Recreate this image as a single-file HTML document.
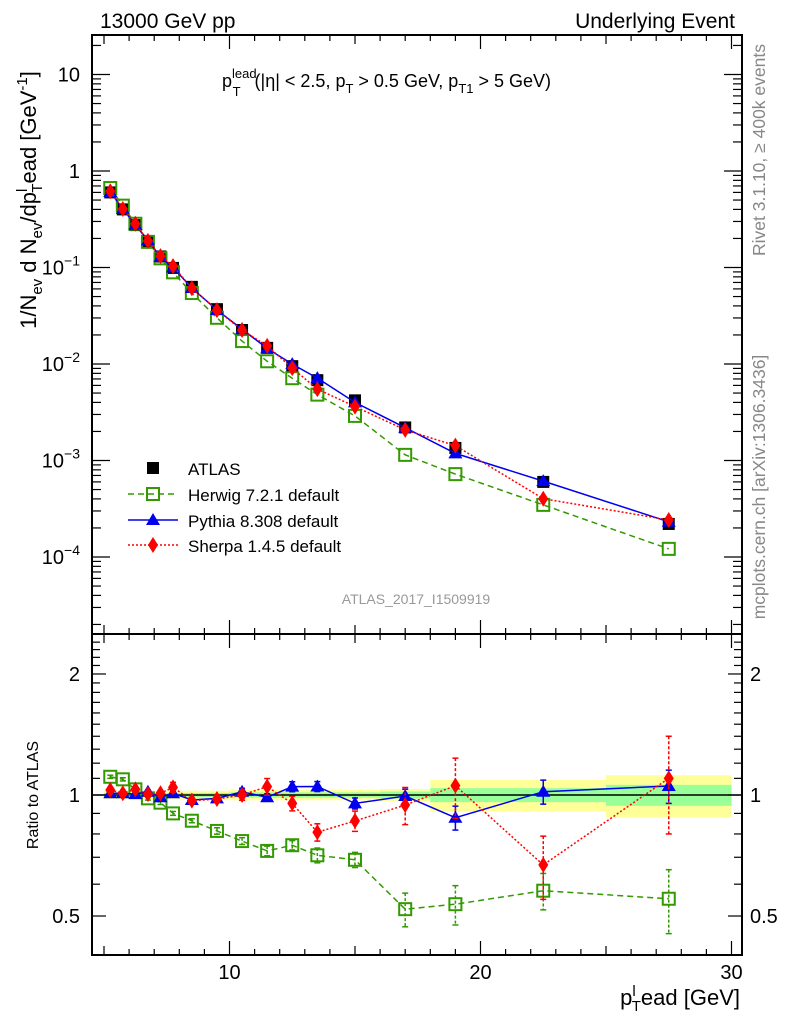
<!DOCTYPE html>
<html><head><meta charset="utf-8"><style>
body{margin:0;background:#fff}
svg text{font-family:"Liberation Sans",sans-serif}
</style></head><body>
<svg id="c" width="786" height="1024" viewBox="0 0 786 1024" xmlns="http://www.w3.org/2000/svg">
<text x="100" y="28" font-size="21">13000 GeV pp</text>
<text x="735" y="28" font-size="21" text-anchor="end">Underlying Event</text>
<text x="222" y="87" font-size="18">p<tspan dy="-9" font-size="13">lead</tspan><tspan dx="-24" dy="18" font-size="13">T</tspan><tspan dx="14" dy="-9">(|η| &lt; 2.5, p</tspan><tspan dy="6" font-size="13">T</tspan><tspan dy="-6"> &gt; 0.5 GeV, p</tspan><tspan dy="6" font-size="13">T1</tspan><tspan dy="-6"> &gt; 5 GeV)</tspan></text>
<text transform="translate(36,200) rotate(-90)" font-size="22" text-anchor="middle">1/N<tspan dy="6" font-size="15">ev</tspan><tspan dy="-6"> d N</tspan><tspan dy="6" font-size="15">ev</tspan><tspan dy="-6">/dp</tspan><tspan dy="-9" font-size="15">l</tspan><tspan dx="-4" dy="15" font-size="15">T</tspan><tspan dy="-6">ead [GeV</tspan><tspan dy="-9" font-size="15">-1</tspan><tspan dy="9">]</tspan></text>
<text transform="translate(38,795) rotate(-90)" font-size="16" text-anchor="middle">Ratio to ATLAS</text>
<text x="740" y="1005" font-size="22" text-anchor="end">p<tspan dy="-9" font-size="15">l</tspan><tspan dx="-4" dy="15" font-size="15">T</tspan><tspan dy="-6">ead [GeV]</tspan></text>
<text transform="translate(765,150) rotate(-90)" font-size="17.5" fill="#888" text-anchor="middle">Rivet 3.1.10, ≥ 400k events</text>
<text transform="translate(765,487) rotate(-90)" font-size="17.5" fill="#888" text-anchor="middle">mcplots.cern.ch [arXiv:1306.3436]</text>
<text x="416" y="604" font-size="14" fill="#999" text-anchor="middle">ATLAS_2017_I1509919</text>
<g id="g"></g>
</svg>
<script>
const xs=[5.25,5.75,6.25,6.75,7.25,7.75,8.5,9.5,10.5,11.5,12.5,13.5,15,17,19,22.5,27.5];
const binEdges=[5,5.5,6,6.5,7,7.5,8,9,10,11,12,13,14,16,18,20,25,30];
const atlas=[0.60,0.40,0.275,0.188,0.13,0.099,0.063,0.037,0.0225,0.0147,0.0095,0.0068,0.0042,0.0022,0.00135,0.0006,0.00022];
const bandStat=[0.012,0.012,0.012,0.012,0.012,0.012,0.012,0.012,0.015,0.015,0.015,0.015,0.015,0.02,0.04,0.04,0.06];
const bandTot=[0.025,0.025,0.025,0.025,0.025,0.025,0.025,0.025,0.03,0.03,0.03,0.03,0.03,0.035,0.09,0.09,0.12];
const herwigR=[1.11,1.094,1.033,0.981,0.957,0.90,0.863,0.814,0.768,0.726,0.75,0.708,0.69,0.52,0.535,0.578,0.552];
const herwigE=[0.01,0.01,0.01,0.01,0.01,0.01,0.01,0.015,0.015,0.02,0.02,0.03,0.03,0.05,0.06,0.06,0.1];
const pythiaR=[1.01,1.01,1.005,1.019,0.987,1.01,0.972,0.981,1.019,0.987,1.049,1.05,0.953,0.994,0.878,1.019,1.053];
const pythiaE=[0.01,0.01,0.01,0.01,0.01,0.01,0.01,0.015,0.02,0.02,0.03,0.03,0.03,0.04,0.06,0.07,0.1];
const sherpaR=[1.029,1.01,1.033,1.005,1.01,1.045,0.968,0.977,1.0,1.049,0.953,0.808,0.862,0.944,1.055,0.67,1.10];
const sherpaE=[0.01,0.01,0.01,0.01,0.01,0.03,0.01,0.02,0.03,0.05,0.04,0.04,0.05,0.1,0.18,0.12,0.3];
const xTicks=[10,20,30];
const yTicks=[-4,-3,-2,-1,0,1];
const rTicks=[0.5,1,2];

const NS='http://www.w3.org/2000/svg';
const G=document.getElementById('g');
const L=92,R=742,T=35,M=634,B=955;
const X=v=>229.5+25.1*(v-10);
const Y=v=>171-96.5*Math.log10(v);
const RY=v=>795-402*Math.log10(v);
function el(t,a,p){const e=document.createElementNS(NS,t);for(const k in a)e.setAttribute(k,a[k]);(p||G).appendChild(e);return e;}
function clipR(v){return Math.max(M,Math.min(B,v));}

for(let i=0;i<xs.length;i++){
  const x0=X(binEdges[i]),x1=X(binEdges[i+1]);
  const b1=el('rect',{x:x0,y:RY(1+bandTot[i]),width:x1-x0,height:RY(1-bandTot[i])-RY(1+bandTot[i]),fill:'#ffff99'});
  
  
  const b2=el('rect',{x:x0,y:RY(1+bandStat[i]),width:x1-x0,height:RY(1-bandStat[i])-RY(1+bandStat[i]),fill:'#99ff99'});
  
  
}
el('line',{x1:L,x2:R,y1:RY(1),y2:RY(1),stroke:'#000','stroke-width':1.5});

function frame(y0,y1,name){
  const f=el('rect',{x:L,y:y0,width:R-L,height:y1-y0,fill:'none',stroke:'#000','stroke-width':2});
  
  
  for(let v=5;v<=30;v++){
    const big=v%10===0, mid=v%5===0;const len=big?14:(mid?9:6);
    el('line',{x1:X(v),x2:X(v),y1:y1,y2:y1-len,stroke:'#000','stroke-width':1.2});
    el('line',{x1:X(v),x2:X(v),y1:y0,y2:y0+len,stroke:'#000','stroke-width':1.2});
  }
}
frame(T,M,'main-frame');
frame(M,B,'ratio-frame');
xTicks.forEach(v=>{const t=el('text',{x:X(v),y:979,'font-size':20,'text-anchor':'middle'});t.textContent=v;

});
for(let d=-5;d<=1;d++){for(let m=1;m<=9;m++){const v=m*Math.pow(10,d);const y=Y(v);if(y<T||y>M)continue;const len=m===1?18:9;
el('line',{x1:L,x2:L+len,y1:y,y2:y,stroke:'#000','stroke-width':1.2});el('line',{x1:R,x2:R-len,y1:y,y2:y,stroke:'#000','stroke-width':1.2});}}
yTicks.forEach(e=>{const t=el('text',{x:80,y:Y(Math.pow(10,e))+7,'font-size':20,'text-anchor':'end'});
if(e===0)t.textContent='1';else if(e===1)t.textContent='10';else{t.textContent='10';const s=el('tspan',{dy:-9,'font-size':14},t);s.textContent='−'+(-e);}

});
for(let v=0.4;v<=2.5;v+=0.1){const y=RY(v);if(y<M||y>B)continue;const maj=[0.5,1,2].some(q=>Math.abs(q-v)<1e-6);const len=maj?14:8;
el('line',{x1:L,x2:L+len,y1:y,y2:y,stroke:'#000','stroke-width':1.2});el('line',{x1:R,x2:R-len,y1:y,y2:y,stroke:'#000','stroke-width':1.2});}
rTicks.forEach(v=>{const a=el('text',{x:80,y:RY(v)+7,'font-size':20,'text-anchor':'end'});a.textContent=v;


const b=el('text',{x:750,y:RY(v)+7,'font-size':20});b.textContent=v;

});

function marker(type,x,y,col,p){
  if(type==='sq')el('rect',{x:x-6,y:y-6,width:12,height:12,fill:'#000'},p);
  if(type==='osq')el('rect',{x:x-6,y:y-6,width:12,height:12,fill:'none',stroke:col,'stroke-width':2},p);
  if(type==='tri')el('polygon',{points:`${x},${y-7} ${x-7},${y+5} ${x+7},${y+5}`,fill:col},p);
  if(type==='dia')el('polygon',{points:`${x},${y-8} ${x-5},${y} ${x},${y+8} ${x+5},${y}`,fill:col},p);
}
const series=[
 {name:'herwig',r:herwigR,e:herwigE,col:'#339900',dash:'6,4',m:'osq'},
 {name:'pythia',r:pythiaR,e:pythiaE,col:'#0000ee',dash:'',m:'tri'},
 {name:'sherpa',r:sherpaR,e:sherpaE,col:'#ff0000',dash:'2,2',m:'dia'}];

atlas.forEach((v,i)=>{const g=el('g',{});


marker('sq',X(xs[i]),Y(v),'#000',g);});

series.forEach(s=>{
  ['main','ratio'].forEach(panel=>{
    const g=el('g',{});
    
    
    const pts=xs.map((x,i)=>[X(x),panel==='main'?Y(atlas[i]*s.r[i]):RY(s.r[i])]);
    el('polyline',{points:pts.map(p=>p.join(',')).join(' '),fill:'none',stroke:s.col,'stroke-width':1.5,'stroke-dasharray':s.dash},g);
    if(panel==='ratio'){
      xs.forEach((x,i)=>{const y1=clipR(RY(s.r[i]+s.e[i])),y2=clipR(RY(s.r[i]-s.e[i]));const xx=X(x);
        el('line',{x1:xx,x2:xx,y1:y1,y2:y2,stroke:s.col,'stroke-width':1.5,'stroke-dasharray':s.dash?'3,2':''},g);
        el('line',{x1:xx-3,x2:xx+3,y1:y1,y2:y1,stroke:s.col,'stroke-width':1.5},g);
        el('line',{x1:xx-3,x2:xx+3,y1:y2,y2:y2,stroke:s.col,'stroke-width':1.5},g);});
    }
    pts.forEach(p=>marker(s.m,p[0],p[1],s.col,g));
  });
});

const leg=[['ATLAS','sq','#000',''],['Herwig 7.2.1 default','osq','#339900','6,4'],['Pythia 8.308 default','tri','#0000ee',''],['Sherpa 1.4.5 default','dia','#ff0000','2,2']];
const legY=[468,494,520,545];
leg.forEach((l,i)=>{const g=el('g',{});


if(i>0)el('line',{x1:128,x2:178,y1:legY[i],y2:legY[i],stroke:l[2],'stroke-width':1.5,'stroke-dasharray':l[3]},g);
marker(l[1],153,legY[i],l[2],g);
const t=el('text',{x:188,y:legY[i]+7,'font-size':17},g);t.textContent=l[0];});
</script>
</body></html>
